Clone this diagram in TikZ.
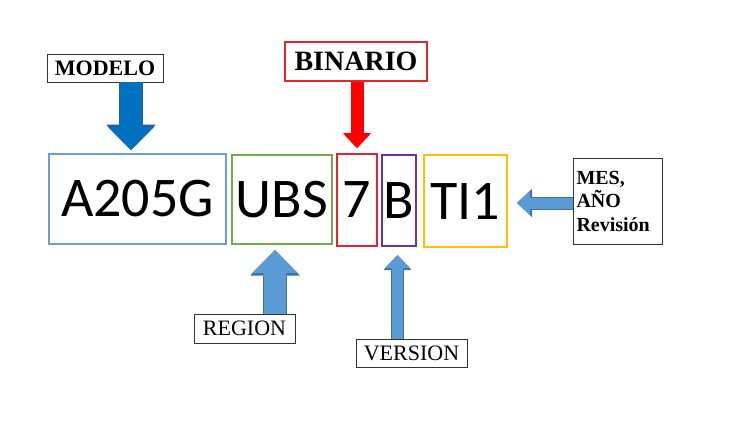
\documentclass[tikz,border=0pt]{standalone}
\usepackage{fontspec}
\setmainfont{Liberation Serif}
\newfontfamily\codefont{Carlito}
\usetikzlibrary{arrows.meta}
\definecolor{segblue}{HTML}{6A9FCF}
\definecolor{seggreen}{HTML}{70AD47}
\definecolor{segred}{HTML}{E0262B}
\definecolor{segpurple}{HTML}{7030A0}
\definecolor{segyellow}{HTML}{FFC000}
\definecolor{arrowlight}{HTML}{5B9BD5}
\definecolor{arrowlightline}{HTML}{41719C}
\definecolor{arrowdark}{HTML}{0070C0}
\definecolor{arrowdarkline}{HTML}{1F5F9F}
\tikzset{
	seg/.style={draw=#1, line width=1.8pt, inner sep=0pt, font=\codefont\fontsize{56}{60}\selectfont},
	tag/.style={draw=black!80, line width=0.8pt, inner sep=0pt, font=\bfseries\fontsize{22}{24}\selectfont},
	bigarrow/.style 2 args={draw=#1, line width=22pt, -{Triangle[length=23pt,width=46pt,line width=0pt]},
		preaction={draw=#2, line width=24pt, -{Triangle[length=25.5pt,width=49.5pt,line width=0pt]}}},
	smallarrow/.style 2 args={draw=#1, line width=11pt, -{Triangle[length=13pt,width=25pt,line width=0pt]},
		preaction={draw=#2, line width=13pt, -{Triangle[length=15pt,width=28pt,line width=0pt]}}}
}
\begin{document}
\begin{tikzpicture}[x=1pt, y=-1pt]
		\fill[white] (0,0) rectangle (729,426);
		\useasboundingbox (0,0) rectangle (729,426);
		% Code segments
		\node[seg=segblue, minimum width=177pt, minimum height=90pt] (modelo) at (137.5,199) {A205G};
		\node[seg=seggreen, minimum width=100pt, minimum height=89pt] (region) at (282,199.5) {UBS};
		\node[seg=segred, minimum width=40pt, minimum height=92pt] (binario) at (357,200) {7};
		\node[seg=segpurple, minimum width=34pt, minimum height=91pt] (version) at (399,200.5) {B};
		\node[seg=segyellow, minimum width=83pt, minimum height=92pt] (fecha) at (465.5,201) {TI1};
		% Labels
		\node[tag, minimum width=116pt, minimum height=28pt] (modelotag) at (105,68) {MODELO};
		\node[tag, draw=segred, line width=1.2pt, minimum width=142pt, minimum height=39pt, font=\bfseries\fontsize{28}{30}\selectfont] (binariotag) at (356,61.5) {BINARIO};
		\node[tag, font=\fontsize{22}{24}\selectfont, minimum width=101pt, minimum height=29pt] (regiontag) at (244.5,328.5) {REGION};
		\node[tag, font=\fontsize{22}{24}\selectfont, minimum width=111pt, minimum height=28pt] (versiontag) at (411.5,353) {VERSION};
		\node[tag, font=\bfseries\fontsize{20}{23.5}\selectfont, align=left, text width=82pt, inner xsep=3.5pt, minimum height=86pt] (fechatag) at (617.5,201) {MES,\\AÑO\\Revisión};
		% Arrows
		\coordinate (modelotip) at (131,150);
		\coordinate (binariotip) at (357,148);
		\coordinate (regiontip) at (275,250);
		\coordinate (versiontip) at (397.5,255);
		\coordinate (fechatip) at (517,203);
		\draw[bigarrow={arrowdark}{arrowdarkline}] (modelotip |- modelotag.south) -- (modelotip);
		\draw[smallarrow={red}{red}] (binariotip |- binariotag.south) -- (binariotip);
		\draw[bigarrow={arrowlight}{arrowlightline}] (regiontip |- regiontag.north) -- (regiontip);
		\draw[smallarrow={arrowlight}{arrowlightline}] (versiontip |- versiontag.north) -- (versiontip);
		\draw[smallarrow={arrowlight}{arrowlightline}] (fechatip -| fechatag.west) -- (fechatip);
	\end{tikzpicture}
\end{document}
